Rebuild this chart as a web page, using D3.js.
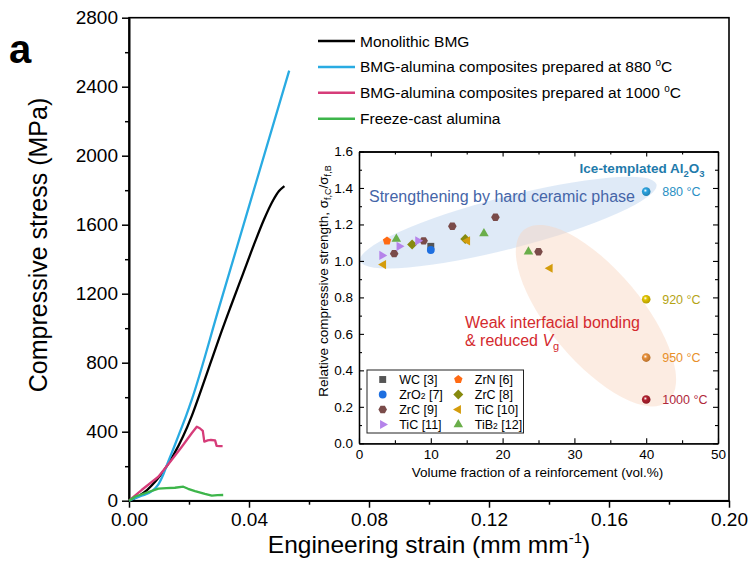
<!DOCTYPE html>
<html>
<head>
<meta charset="utf-8">
<script src="https://cdn.jsdelivr.net/npm/d3@7"></script>
<style>
  body { margin: 0; background: #fff; }
  svg { font-family: "Liberation Sans", Arial, sans-serif; }
</style>
</head>
<body>
<svg id="chart" width="751" height="577"></svg>
<script>
// ---- main plot data: [strain, stress (MPa)] ----
const monolithicBMG = [[0, 0], [0.003, 25], [0.006, 62], [0.009, 115], [0.012, 185], [0.015, 270],
  [0.018, 372], [0.021, 495], [0.024, 640], [0.027, 790], [0.030, 940], [0.034, 1130],
  [0.038, 1315], [0.042, 1500], [0.045, 1630], [0.048, 1740], [0.050, 1795], [0.0518, 1824]];
const composite880 = [[0, 0], [0.002, 15], [0.0045, 30], [0.0076, 55], [0.0098, 95], [0.0115, 155],
  [0.0131, 228], [0.015, 310], [0.017, 400], [0.019, 490], [0.0209, 584], [0.030, 1119],
  [0.040, 1706], [0.0534, 2493]];
const composite1000 = [[0, 0], [0.0042, 62], [0.0098, 139], [0.0142, 236], [0.0176, 313],
  [0.0209, 391], [0.0226, 429], [0.0236, 420], [0.0246, 405], [0.0251, 342], [0.0262, 350],
  [0.0273, 352], [0.0287, 350], [0.0292, 318], [0.0302, 316], [0.0312, 316]];
const freezeCast = [[0, 0], [0.002, 23], [0.0053, 43], [0.0098, 70], [0.0125, 73], [0.0153, 75],
  [0.0181, 81], [0.0197, 69], [0.022, 56], [0.0253, 40], [0.0276, 30], [0.0295, 32], [0.0314, 33]];

const curveNames = ["Monolithic BMG", "BMG-alumina composites prepared at 880 ",
  "BMG-alumina composites prepared at 1000 ", "Freeze-cast alumina"];
const strainTicks = [0, 0.04, 0.08, 0.12, 0.16, 0.20];
const stressTicks = [0, 400, 800, 1200, 1600, 2000, 2400, 2800];

// ---- inset data: [vol.%, relative strength] ----
const wc3 = [[10.0, 1.08]];
const zrn6 = [[3.9, 1.11]];
const zro2_7 = [[10.0, 1.06]];
const zrc8 = [[7.4, 1.09], [14.8, 1.12]];
const zrc9 = [[4.9, 1.04], [9.0, 1.11], [13.0, 1.19], [19.0, 1.24], [25.0, 1.05]];
const tic10 = [[3.4, 0.98], [15.1, 1.11], [26.6, 0.96]];
const tic11 = [[3.2, 1.03], [5.6, 1.08], [8.2, 1.11]];
const tib2_12 = [[5.2, 1.12], [17.4, 1.15], [23.6, 1.05]];

const iceTemps = ["880", "920", "950", "1000"];
const iceVol = [40, 40, 40, 40];
const iceStrength = [1.38, 0.79, 0.47, 0.24];

const volTicks = [0, 10, 20, 30, 40, 50];
const ratioTicks = [0, 0.2, 0.4, 0.6, 0.8, 1.0, 1.2, 1.4, 1.6];

const svg = d3.select("#chart");

// ================= main plot =================
const x = d3.scaleLinear().domain([0, 0.2]).range([129, 729]);
const y = d3.scaleLinear().domain([0, 2800]).range([500.7, 17.7]);

// frame
svg.append("rect")
  .attr("x", x(0)).attr("y", y(2800))
  .attr("width", x(0.2) - x(0)).attr("height", y(0) - y(2800))
  .attr("fill", "none").attr("stroke", "#000").attr("stroke-width", 1.6);

const xAxis = svg.append("g")
  .attr("transform", `translate(0,${y(0)})`)
  .call(d3.axisBottom(x).tickValues(strainTicks).tickSize(7).tickSizeOuter(0)
    .tickPadding(5).tickFormat(d3.format(".2f")));
svg.append("g")
  .attr("transform", `translate(0,${y(0)})`)
  .call(d3.axisBottom(x).tickValues(d3.range(0.02, 0.2, 0.04)).tickSize(4).tickSizeOuter(0).tickFormat(""));

const yAxis = svg.append("g")
  .attr("transform", `translate(${x(0)},0)`)
  .call(d3.axisLeft(y).tickValues(stressTicks).tickSize(7).tickSizeOuter(0).tickPadding(4)
    .tickFormat(d3.format("d")));
svg.append("g")
  .attr("transform", `translate(${x(0)},0)`)
  .call(d3.axisLeft(y).tickValues(d3.range(200, 2800, 400)).tickSize(4).tickSizeOuter(0).tickFormat(""));

svg.selectAll(".domain").attr("stroke-width", 1.6);
svg.selectAll(".tick line").attr("stroke-width", 1.5);
xAxis.selectAll("text").style("font-size", "19px").attr("fill", "#000");
yAxis.selectAll("text").style("font-size", "19px").attr("fill", "#000");

// axis titles
const xt = svg.append("text")
  .attr("x", 429).attr("y", 553).attr("text-anchor", "middle")
  .style("font-size", "24.5px");
xt.append("tspan").text("Engineering strain (mm mm");
xt.append("tspan").attr("dy", -10).style("font-size", "15px").text("-1");
xt.append("tspan").attr("dy", 10).text(")");

svg.append("text")
  .attr("transform", "translate(47,245) rotate(-90)")
  .attr("text-anchor", "middle")
  .style("font-size", "25px")
  .text("Compressive stress (MPa)");

svg.append("text")
  .attr("x", 9).attr("y", 63)
  .style("font-size", "40px").style("font-weight", "bold")
  .text("a");

// curves
const curveColors = ["#000000", "#29abe2", "#d63c79", "#3db54a"];
const curves = [monolithicBMG, composite880, composite1000, freezeCast];
const line = d3.line().x(d => x(d[0])).y(d => y(d[1]));

svg.selectAll("path.curve")
  .data(curves)
  .join("path")
  .attr("class", "curve")
  .attr("d", (d, i) => (i < 2 ? line.curve(d3.curveMonotoneX) : line.curve(d3.curveLinear))(d))
  .attr("fill", "none")
  .attr("stroke", (d, i) => curveColors[i])
  .attr("stroke-width", 2.3)
  .attr("stroke-linejoin", "round");

// legend
const legend = svg.selectAll("g.leg")
  .data(curveNames)
  .join("g")
  .attr("class", "leg")
  .attr("transform", (d, i) => `translate(318,${41 + i * 25.9})`);
legend.append("line")
  .attr("x1", 0).attr("x2", 37)
  .attr("stroke", (d, i) => curveColors[i])
  .attr("stroke-width", 2.5);
legend.each(function (d, i) {
  const t = d3.select(this).append("text")
    .attr("x", 42).attr("y", 5.5)
    .style("font-size", "15.5px");
  t.append("tspan").text(d);
  if (i === 1 || i === 2) {
    t.append("tspan").attr("dy", -6).style("font-size", "10px").text("o");
    t.append("tspan").attr("dy", 6).text("C");
  }
});

// ================= inset =================
const ix = d3.scaleLinear().domain([0, 50]).range([359, 718]);
const iy = d3.scaleLinear().domain([0, 1.6]).range([443.3, 151.5]);
const inset = svg.append("g");

inset.append("rect")
  .attr("x", ix(0)).attr("y", iy(1.6))
  .attr("width", ix(50) - ix(0)).attr("height", iy(0) - iy(1.6))
  .attr("fill", "#fff");

// shaded regions
const ex = (cxv, cyv) => `translate(${ix(cxv)},${iy(cyv)})`;
inset.append("ellipse")
  .attr("transform", ex(20.8, 1.21) + " rotate(-14.5)")
  .attr("rx", 153).attr("ry", 26)
  .attr("fill", "rgb(196,216,240)").attr("opacity", 0.55);
inset.append("ellipse")
  .attr("transform", ex(33.0, 0.70) + " rotate(50)")
  .attr("rx", 112).attr("ry", 46)
  .attr("fill", "rgb(248,212,190)").attr("opacity", 0.45);

// axes (ticks inward, mirrored)
function insetAxis(axisFn, scale, ticks, minor, tx, ty, labels) {
  const g = inset.append("g").attr("transform", `translate(${tx},${ty})`)
    .call(axisFn(scale).tickValues(ticks).tickSizeInner(-5).tickSizeOuter(0)
      .tickPadding(6).tickFormat(labels ? null : ""));
  inset.append("g").attr("transform", `translate(${tx},${ty})`)
    .call(axisFn(scale).tickValues(minor).tickSizeInner(-3).tickSizeOuter(0).tickFormat(""));
  return g;
}
const volMinor = d3.range(5, 50, 10);
const ratioMinor = d3.range(0.1, 1.6, 0.2);
const ixa = insetAxis(d3.axisBottom, ix, volTicks, volMinor, 0, iy(0), true);
insetAxis(d3.axisTop, ix, volTicks, volMinor, 0, iy(1.6), false);
const iya = insetAxis(d3.axisLeft, iy, ratioTicks, ratioMinor, ix(0), 0, true);
insetAxis(d3.axisRight, iy, ratioTicks, ratioMinor, ix(50), 0, false);
ixa.selectAll("text").style("font-size", "13.5px").attr("fill", "#000");
iya.selectAll("text").style("font-size", "13.5px").attr("fill", "#000")
  .text(d => d3.format(".1f")(d));
inset.selectAll(".domain").attr("stroke-width", 1.3);
inset.selectAll(".tick line").attr("stroke-width", 1.1);

inset.append("text")
  .attr("x", 537.5).attr("y", 476.7).attr("text-anchor", "middle")
  .style("font-size", "13.5px")
  .text("Volume fraction of a reinforcement (vol.%)");

const iyt = inset.append("text")
  .attr("transform", "translate(328,281) rotate(-90)")
  .attr("text-anchor", "middle")
  .style("font-size", "13.5px");
iyt.append("tspan").text("Relative compressive strength, σ");
iyt.append("tspan").attr("dy", 3).style("font-size", "9px").text("f,C");
iyt.append("tspan").attr("dy", -3).text("/σ");
iyt.append("tspan").attr("dy", 3).style("font-size", "9px").text("f,B");

// annotations
inset.append("text")
  .attr("x", 369).attr("y", 202)
  .attr("fill", "#4565a8").style("font-size", "16px")
  .text("Strengthening by hard ceramic phase");
inset.append("text")
  .attr("x", 465).attr("y", 327.5)
  .attr("fill", "#d42a2e").style("font-size", "16px")
  .text("Weak interfacial bonding");
const wk = inset.append("text")
  .attr("x", 465).attr("y", 345.5)
  .attr("fill", "#d42a2e").style("font-size", "16px");
wk.append("tspan").text("& reduced ");
wk.append("tspan").style("font-style", "italic").text("V");
wk.append("tspan").attr("dy", 4).style("font-size", "11px").text("g");

const ttl = inset.append("text")
  .attr("x", 704.5).attr("y", 173).attr("text-anchor", "end")
  .attr("fill", "#1f7bab").style("font-size", "13.5px").style("font-weight", "bold");
ttl.append("tspan").text("Ice-templated Al");
ttl.append("tspan").attr("dy", 3.5).style("font-size", "9.5px").text("2");
ttl.append("tspan").attr("dy", -3.5).text("O");
ttl.append("tspan").attr("dy", 3.5).style("font-size", "9.5px").text("3");

// marker shapes
function polygon(n, r, rot) {
  const pts = d3.range(n).map(k => {
    const a = rot + k * 2 * Math.PI / n;
    return [r * Math.cos(a), r * Math.sin(a)];
  });
  return "M" + pts.map(p => p.join(",")).join("L") + "Z";
}
const circlePath = r => `M${r},0A${r},${r} 0 1,1 ${-r},0A${r},${r} 0 1,1 ${r},0Z`;

const reinforcements = [
  { name: "WC [3]", data: wc3, color: "#555555", path: polygon(4, 4.9, Math.PI / 4) },
  { name: "ZrN [6]", data: zrn6, color: "#ff6a13", path: polygon(5, 4.4, -Math.PI / 2) },
  { name: "ZrO|2| [7]", data: zro2_7, color: "#1e6fe0", path: circlePath(3.9) },
  { name: "ZrC [8]", data: zrc8, color: "#878a0e", path: polygon(4, 5, 0) },
  { name: "ZrC [9]", data: zrc9, color: "#7a4b49", path: polygon(6, 4.3, 0) },
  { name: "TiC [10]", data: tic10, color: "#d49c0c", path: polygon(3, 5.3, Math.PI) },
  { name: "TiC [11]", data: tic11, color: "#b583ea", path: polygon(3, 5.3, 0) },
  { name: "TiB|2| [12]", data: tib2_12, color: "#6aae4a", path: polygon(3, 5.5, -Math.PI / 2) },
];

reinforcements.forEach(s => {
  inset.selectAll(null)
    .data(s.data)
    .join("path")
    .attr("transform", d => `translate(${ix(d[0])},${iy(d[1])})`)
    .attr("d", s.path)
    .attr("fill", s.color);
});

// ice-templated spheres
const iceColors = ["#2aa3e0", "#e2c400", "#e8903a", "#b0202e"];
const iceLabelColors = ["#2a8fc4", "#b5a414", "#e8902a", "#b0283a"];
const defs = svg.append("defs");
iceColors.forEach((c, i) => {
  const g = defs.append("radialGradient").attr("id", "sph" + i)
    .attr("cx", "40%").attr("cy", "38%").attr("r", "60%");
  g.append("stop").attr("offset", "0%").attr("stop-color", "#fff");
  g.append("stop").attr("offset", "35%").attr("stop-color", c);
  g.append("stop").attr("offset", "100%").attr("stop-color", d3.color(c).darker(0.6));
});
inset.selectAll("circle.ice")
  .data(iceTemps)
  .join("circle")
  .attr("class", "ice")
  .attr("cx", (d, i) => ix(iceVol[i]))
  .attr("cy", (d, i) => iy(iceStrength[i]))
  .attr("r", 4.3)
  .attr("fill", (d, i) => `url(#sph${i})`);
inset.selectAll("text.ice")
  .data(iceTemps)
  .join("text")
  .attr("class", "ice")
  .attr("x", (d, i) => ix(iceVol[i]) + 16)
  .attr("y", (d, i) => iy(iceStrength[i]) + 4.5)
  .attr("fill", (d, i) => iceLabelColors[i])
  .style("font-size", "12.5px")
  .text(d => d + " °C");

// inset legend
inset.append("rect")
  .attr("x", 367).attr("y", 370).attr("width", 156.5).attr("height", 63)
  .attr("fill", "#fff").attr("stroke", "#222").attr("stroke-width", 1);
const lg = inset.selectAll("g.ileg")
  .data(reinforcements)
  .join("g")
  .attr("class", "ileg")
  .attr("transform", (d, i) => `translate(${i % 2 ? 458.3 : 382.7},${379.5 + Math.floor(i / 2) * 15})`);
lg.append("path").attr("d", d => d.path).attr("fill", d => d.color);
lg.each(function (d) {
  const t = d3.select(this).append("text")
    .attr("x", 16.5).attr("y", 4.5)
    .style("font-size", "12.5px");
  d.name.split("|").forEach((part, k) => {
    const sp = t.append("tspan").text(part);
    if (k === 1) sp.style("font-size", "8.5px");
  });
});
</script>
</body>
</html>
